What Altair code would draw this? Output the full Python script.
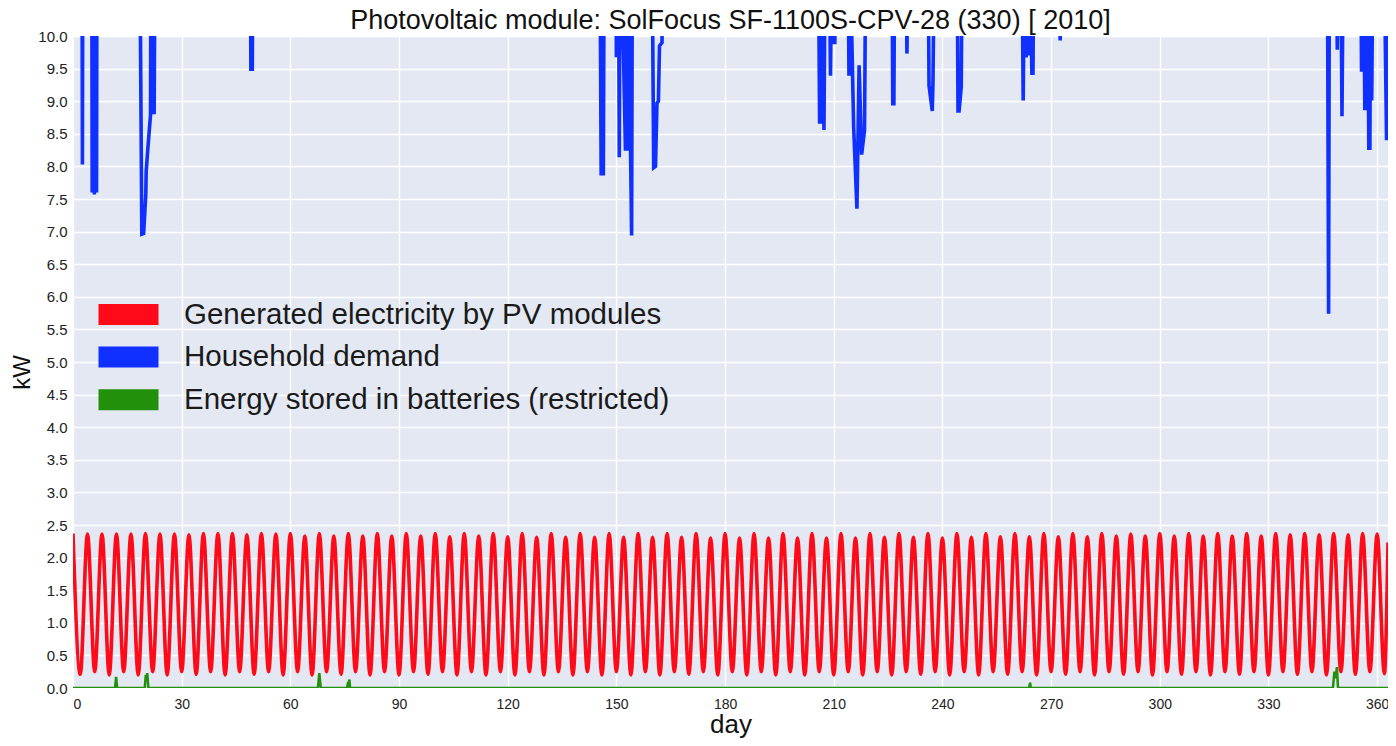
import altair as alt
import pandas as pd

TITLE = "Photovoltaic module: SolFocus SF-1100S-CPV-28 (330) [ 2010]"
FONT = "Liberation Sans"

series_names = [
    "Generated electricity by PV modules",
    "Household demand",
    "Energy stored in batteries (restricted)",
]
series_colors = ["#FF0A18", "#0F30FF", "#22900A"]

x_ticks = [0, 30, 60, 90, 120, 150, 180, 210, 240, 270, 300, 330, 360]
y_ticks = [0.0, 0.5, 1.0, 1.5, 2.0, 2.5, 3.0, 3.5, 4.0, 4.5, 5.0, 5.5, 6.0,
           6.5, 7.0, 7.5, 8.0, 8.5, 9.0, 9.5, 10.0]

# Generated electricity: daily maxima / minima
peak_days = [0, 4, 8, 12, 16, 20, 24, 28, 32, 36, 40, 44, 48, 52, 56, 60,
             64, 68, 72, 76, 80, 84, 88, 92, 96, 100, 104, 108, 112, 116, 120,
             124, 128, 132, 136, 140, 144, 148, 152, 156, 160, 164, 168, 172,
             176, 180, 184, 188, 192, 196, 200, 204, 208, 212, 216, 220, 224,
             228, 232, 236, 240, 244, 248, 252, 256, 260, 264, 268, 272, 276,
             280, 284, 288, 292, 296, 300, 304, 308, 312, 316, 320, 324, 328,
             332, 336, 340, 344, 348, 352, 356, 360]
peak_vals = [2.37, 2.36, 2.36, 2.36, 2.36, 2.37, 2.36, 2.36, 2.35, 2.37, 2.37,
             2.37, 2.35, 2.37, 2.36, 2.37,
             2.33, 2.37, 2.33, 2.37, 2.33, 2.37, 2.33, 2.37, 2.33, 2.37,
             2.32, 2.37, 2.33, 2.37, 2.32, 2.37, 2.31, 2.37, 2.31, 2.37,
             2.31, 2.37, 2.31, 2.37, 2.31, 2.37, 2.31, 2.37, 2.30, 2.37,
             2.30, 2.37, 2.30, 2.37, 2.30, 2.37, 2.30, 2.37, 2.30, 2.37,
             2.31, 2.37, 2.31, 2.37, 2.30, 2.37, 2.31, 2.37, 2.32, 2.37,
             2.32, 2.37, 2.32, 2.37, 2.32, 2.37, 2.33, 2.36, 2.33, 2.37,
             2.33, 2.37, 2.33, 2.37, 2.33, 2.37, 2.33, 2.37, 2.35, 2.37,
             2.35, 2.37, 2.35, 2.37, 2.36]
trough_days = [2, 6, 10, 14, 18, 22, 26, 30, 34, 38, 42, 46, 50, 54, 58, 62,
               66, 70, 74, 78, 82, 86, 90, 94, 98, 102, 106, 110, 114, 118,
               122, 126, 130, 134, 138, 142, 146, 150, 154, 158, 162, 166, 170,
               174, 178, 182, 186, 190, 194, 198, 202, 206, 210, 214, 218, 222,
               226, 230, 234, 238, 242, 246, 250, 254, 258, 262, 266, 270, 274,
               278, 282, 286, 290, 294, 298, 302, 306, 310, 314, 318, 322, 326,
               330, 334, 338, 342, 346, 350, 354, 358, 362]
trough_vals = [0.21, 0.25, 0.20, 0.25, 0.20, 0.25, 0.20, 0.25, 0.21, 0.25,
               0.20, 0.25, 0.21, 0.25, 0.20, 0.25, 0.20, 0.25, 0.21, 0.25,
               0.20, 0.25, 0.20, 0.25, 0.21, 0.25, 0.20, 0.25, 0.20, 0.25,
               0.20, 0.25, 0.20, 0.25, 0.20, 0.25, 0.20, 0.25, 0.20, 0.25,
               0.20, 0.25, 0.21, 0.25, 0.20, 0.25, 0.20, 0.25, 0.20, 0.25,
               0.20, 0.25, 0.20, 0.25, 0.20, 0.25, 0.20, 0.25, 0.21, 0.25,
               0.20, 0.25, 0.20, 0.25, 0.21, 0.25, 0.20, 0.25, 0.21, 0.25,
               0.20, 0.25, 0.21, 0.25, 0.20, 0.25, 0.21, 0.25, 0.20, 0.25,
               0.21, 0.25, 0.20, 0.25, 0.21, 0.25, 0.20, 0.25, 0.21, 0.25,
               0.22]
pv_end_day = [363]
pv_end_val = [2.23]

# Household demand (values above 10 kW leave the plotted range)
demand_days = [0, 2.5, 2.6, 2.7, 5.2, 5.3, 5.6, 5.9, 6.2, 6.5, 6.6,
               18.5, 19.0, 19.5, 20.1, 20.2, 20.7, 21.4, 21.5, 21.8, 22.1,
               22.4, 22.6,
               49.0, 49.1, 49.5, 49.6,
               145.5, 145.8, 146.1, 146.4, 146.6,
               149.9, 150.0, 150.5, 150.6, 150.8, 151.0, 151.2, 151.5, 152.5,
               152.7, 153.1, 153.3, 154.2, 154.4,
               159.9, 160.3, 160.8, 161.2, 161.6, 161.9, 162.6, 162.7,
               205.8, 206.1, 206.4, 206.6, 207.0, 207.3, 207.6, 208.8, 209.1,
               209.4, 209.8, 210.3, 210.5,
               214.0, 214.2, 214.6, 215.5, 216.4, 217.0, 217.7, 218.5, 218.8,
               226.1, 226.3, 226.6, 226.8, 230.0, 230.2, 230.5,
               236.1, 236.3, 237.2, 237.4, 237.7,
               244.1, 244.3, 244.6, 245.2, 245.4,
               262.0, 262.3, 262.6, 263.1, 263.5, 263.8, 264.2, 264.7, 265.0,
               265.2,
               272.4, 272.5, 272.7,
               346.3, 346.6, 346.8, 348.8, 349.0, 349.2, 350.0, 350.3, 350.6,
               355.5, 355.7, 355.9, 356.1, 356.3, 356.6, 356.9, 357.2, 357.4,
               357.7, 358.0, 358.2, 358.5, 358.8,
               362.0, 362.6, 362.9, 363.1, 364]
demand_vals = [11, 11, 8.03, 11, 11, 7.6, 11, 7.57, 11, 7.6, 11,
               11, 6.96, 6.97, 7.57, 7.92, 8.3, 8.79, 11, 8.8, 11,
               8.8, 11,
               11, 9.49, 9.49, 11,
               11, 7.86, 11, 7.86, 11,
               11, 9.7, 9.7, 11, 8.14, 11, 9.8, 11, 8.24,
               11, 8.24, 11, 6.94, 11,
               11, 7.98, 8.0, 8.97, 9.0, 9.85, 9.9, 11,
               11, 8.68, 8.68, 11, 11, 8.56, 11, 11, 9.39,
               11, 9.9, 9.9, 11,
               11, 9.39, 11, 8.6, 7.35, 9.55, 8.18, 8.56, 11,
               11, 8.96, 8.96, 11, 11, 9.73, 11,
               11, 9.24, 8.85, 9.32, 11,
               11, 8.85, 8.85, 9.22, 11,
               11, 9.01, 11, 9.67, 11, 9.7, 11, 9.43, 9.43,
               11,
               11, 9.93, 11,
               11, 5.74, 11, 11, 9.79, 11, 11, 8.77, 11,
               11, 9.45, 11, 9.45, 11, 8.86, 11, 8.86, 11,
               8.28, 8.28, 11, 9.01, 11,
               11, 8.43, 8.43, 11, 11]

# Energy stored in batteries
battery_days = [0, 11.6, 11.9, 12.2, 19.8, 20.1, 20.3, 20.5, 20.8,
                67.6, 68.0, 68.4, 75.6, 75.8, 76.0, 76.3, 76.5,
                263.9, 264.2, 264.4, 347.8, 348.2, 348.5, 348.9, 349.2, 364]
battery_vals = [0, 0, 0.17, 0, 0, 0.2, 0.1, 0.23, 0,
                0, 0.23, 0, 0, 0.05, 0.03, 0.13, 0,
                0, 0.08, 0, 0, 0.25, 0.15, 0.32, 0, 0]

pv = pd.DataFrame({
    "day": peak_days + trough_days + pv_end_day,
    "kW": peak_vals + trough_vals + pv_end_val,
}).sort_values("day")
pv["series"] = series_names[0]
hd = pd.DataFrame({"day": demand_days, "kW": demand_vals, "series": series_names[1]})
bt = pd.DataFrame({"day": battery_days, "kW": battery_vals, "series": series_names[2]})

x_enc = alt.X(
    "day:Q",
    scale=alt.Scale(domain=[0, 363], nice=False, zero=False),
    axis=alt.Axis(values=x_ticks, title="day", format="d", labelFontSize=14,
                  labelPadding=9, titleFontSize=26, titleY=44,
                  titleBaseline="alphabetic"),
)
y_enc = alt.Y(
    "kW:Q",
    scale=alt.Scale(domain=[0, 10], nice=False),
    axis=alt.Axis(values=y_ticks, title="kW", format=".1f", labelFontSize=15,
                  labelPadding=6, titleFontSize=24, titleX=-51, titleY=336,
                  titleAlign="center", titleBaseline="middle"),
)
color_enc = alt.Color(
    "series:N",
    scale=alt.Scale(domain=series_names, range=series_colors),
    legend=alt.Legend(
        title=None, orient="none", legendX=15, legendY=257.5,
        direction="vertical", padding=0, symbolType="stroke",
        symbolSize=3600, symbolStrokeWidth=21, clipHeight=42, rowPadding=0.6,
        labelOffset=15, labelFontSize=29.5, labelFont=FONT, labelColor="#1a1a1a",
        labelLimit=1000, symbolOpacity=1,
    ),
)

red = alt.Chart(pv).mark_line(interpolate="monotone", clip=True).encode(
    x=x_enc, y=y_enc, color=color_enc, strokeWidth=alt.value(3.6))
blue = alt.Chart(hd).mark_line(clip=True).encode(
    x=x_enc, y=y_enc, color=color_enc, strokeWidth=alt.value(3.6))
green = alt.Chart(bt).mark_line(clip=True).encode(
    x=x_enc, y=y_enc, color=color_enc, strokeWidth=alt.value(2.5))

chart = (
    alt.layer(red, blue, green)
    .properties(
        width=1315, height=652,
        title=alt.Title(TITLE, fontSize=27, font=FONT, fontWeight="normal",
                        color="#111111", anchor="middle", offset=6, dy=11.5),
        padding={"left": 65, "top": 28, "right": 0, "bottom": 50},
        autosize=alt.AutoSizeParams(type="none"),
    )
    .configure(background="white", font=FONT)
    .configure_view(fill="#E3E8F3", stroke="transparent")
    .configure_axis(grid=True, gridColor="white", gridWidth=1.4, domain=False,
                    ticks=False, labelFont=FONT, labelColor="#222222",
                    titleFont=FONT, titleFontWeight="normal", titleColor="#111111")
)

chart.save("out.html", embed_options={"renderer": "svg", "actions": False})
